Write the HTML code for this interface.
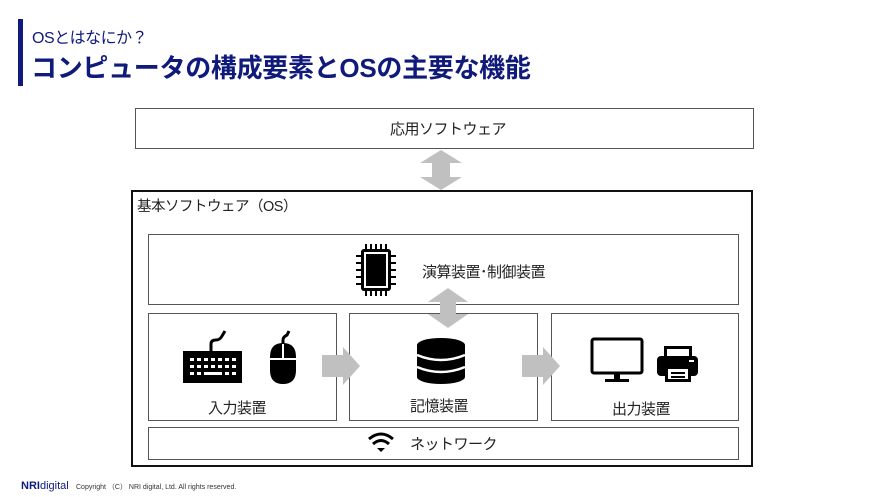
<!DOCTYPE html>
<html><head><meta charset="utf-8"><style>
body{margin:0;width:884px;height:497px;background:#fff;position:relative;overflow:hidden;font-family:"Liberation Sans","Noto Sans CJK JP",sans-serif;color:#222}
.a{position:absolute;box-sizing:border-box}
.bx{border:1px solid #555;background:#fff}
.t{position:absolute;white-space:nowrap;font-size:15px;letter-spacing:-0.5px}
</style></head><body>
<div class="a" style="left:18px;top:19px;width:5px;height:67px;background:#0f1a7a"></div>
<div class="t" style="left:32px;top:24px;font-size:16px;color:#0f1a7a">OSとはなにか？</div>
<div class="t" style="left:31px;top:48px;font-size:26px;font-weight:bold;color:#0f1a7a;letter-spacing:-0.3px">コンピュータの構成要素とOSの主要な機能</div>

<div class="a bx" style="left:135px;top:108px;width:619px;height:41px"></div>
<div class="t" style="left:390px;top:118px;width:110px;text-align:center">応用ソフトウェア</div>

<div class="a" style="left:131px;top:190px;width:622px;height:277px;border:2px solid #111"></div>
<div class="t" style="left:137px;top:195px;font-size:14.5px">基本ソフトウェア（OS）</div>

<div class="a bx" style="left:148px;top:234px;width:591px;height:71px"></div>
<div class="t" style="left:422px;top:261px">演算装置･制御装置</div>
<div class="a bx" style="left:148px;top:313px;width:189px;height:108px"></div>
<div class="a bx" style="left:349px;top:313px;width:189px;height:108px"></div>
<div class="a bx" style="left:551px;top:313px;width:188px;height:108px"></div>
<div class="t" style="left:208px;top:397px">入力装置</div>
<div class="t" style="left:410px;top:395px">記憶装置</div>
<div class="t" style="left:612px;top:398px">出力装置</div>
<div class="a bx" style="left:148px;top:427px;width:591px;height:33px"></div>
<div class="t" style="left:410px;top:433px">ネットワーク</div>

<svg class="a" style="left:0;top:0" width="884" height="497">
<g fill="#c0c0c0">
<polygon points="441,150 462,163 450,163 450,177 462,177 441,190 420,177 432,177 432,163 420,163"/>
<polygon points="448,288 468,302 456,302 456,314 468,314 448,328 428,314 440,314 440,302 428,302"/>
<polygon points="322,355 343,355 343,347 360,366 343,385 343,377 322,377"/>
<polygon points="522,355 543,355 543,347 560,366 543,385 543,377 522,377"/>
</g>
<g fill="#000">
<rect x="361" y="249" width="30" height="42" rx="3"/>
<rect x="364" y="252" width="24" height="36" fill="#fff"/>
<rect x="366" y="254" width="20" height="32"/>
<g stroke="#000" stroke-width="2">
<line x1="366" y1="244" x2="366" y2="249"/><line x1="371" y1="244" x2="371" y2="249"/><line x1="376" y1="244" x2="376" y2="249"/><line x1="381" y1="244" x2="381" y2="249"/><line x1="386" y1="244" x2="386" y2="249"/>
<line x1="366" y1="291" x2="366" y2="296"/><line x1="371" y1="291" x2="371" y2="296"/><line x1="376" y1="291" x2="376" y2="296"/><line x1="381" y1="291" x2="381" y2="296"/><line x1="386" y1="291" x2="386" y2="296"/>
<line x1="356" y1="256" x2="361" y2="256"/><line x1="356" y1="263" x2="361" y2="263"/><line x1="356" y1="270" x2="361" y2="270"/><line x1="356" y1="277" x2="361" y2="277"/><line x1="356" y1="284" x2="361" y2="284"/>
<line x1="391" y1="256" x2="396" y2="256"/><line x1="391" y1="263" x2="396" y2="263"/><line x1="391" y1="270" x2="396" y2="270"/><line x1="391" y1="277" x2="396" y2="277"/><line x1="391" y1="284" x2="396" y2="284"/>
</g></g>
<rect x="183" y="351" width="59" height="32" fill="#000"/>
<g fill="#fff">
<rect x="190" y="358" width="4" height="3"/><rect x="197" y="358" width="4" height="3"/><rect x="204" y="358" width="4" height="3"/><rect x="211" y="358" width="4" height="3"/><rect x="218" y="358" width="4" height="3"/><rect x="225" y="358" width="4" height="3"/><rect x="232" y="358" width="4" height="3"/>
<rect x="190" y="365" width="4" height="3"/><rect x="197" y="365" width="4" height="3"/><rect x="204" y="365" width="4" height="3"/><rect x="211" y="365" width="4" height="3"/><rect x="218" y="365" width="4" height="3"/><rect x="225" y="365" width="4" height="3"/><rect x="232" y="365" width="4" height="3"/>
<rect x="190" y="372" width="4" height="3"/><rect x="197" y="372" width="4" height="3"/><rect x="204" y="372" width="18" height="3"/><rect x="225" y="372" width="4" height="3"/><rect x="232" y="372" width="4" height="3"/>
</g>
<path d="M211,351 V344 Q211,340 216,340 Q220,340 222,336 L225,331" stroke="#000" stroke-width="3" fill="none"/>
<path d="M270,357 Q270,343 283,343 Q296,343 296,357 V370 Q296,384 283,384 Q270,384 270,370 Z" fill="#000"/>
<path d="M270,359 H296 M283,343 V359" stroke="#fff" stroke-width="2"/>
<path d="M283,344 V340 Q283,337 287,335 L289,331" stroke="#000" stroke-width="3" fill="none"/>
<g fill="#000">
<ellipse cx="441" cy="345" rx="24" ry="7"/>
<rect x="417" y="345" width="48" height="32"/>
<ellipse cx="441" cy="377" rx="24" ry="7"/>
</g>
<path d="M417,355 Q441,365 465,355 M417,367 Q441,377 465,367" stroke="#fff" stroke-width="2.5" fill="none"/>
<rect x="592" y="339" width="50" height="34" rx="2" fill="none" stroke="#000" stroke-width="3"/>
<rect x="614" y="374" width="6" height="5" fill="#000"/>
<rect x="605" y="379" width="24" height="3" fill="#000"/>
<rect x="664" y="346" width="28" height="10" fill="#000"/>
<rect x="667" y="349" width="22" height="7" fill="#fff"/>
<rect x="657" y="356" width="41" height="20" rx="4" fill="#000"/>
<rect x="665" y="366" width="26" height="16" fill="#000"/>
<rect x="668" y="369" width="20" height="10" fill="#fff"/>
<rect x="671" y="372" width="14" height="2" fill="#000"/><rect x="671" y="376" width="14" height="2" fill="#000"/>
<rect x="689" y="360" width="5" height="2" fill="#fff"/>
<g fill="none" stroke="#000" stroke-width="3">
<path d="M369,439 Q381,429 393,439"/><path d="M373,444 Q381,437 389,444"/>
</g>
<polygon points="377,448 385,448 381,452" fill="#000"/>
</svg>

<div class="t" style="left:21px;top:480px;font-size:11px;color:#0f1a7a;font-weight:bold;letter-spacing:0">NRI<span style="font-weight:normal;color:#0f1a7a">digital</span></div>
<div class="t" style="left:76px;top:482px;font-size:7px;color:#333;letter-spacing:0">Copyright （C） NRI digital, Ltd. All rights reserved.</div>
</body></html>
